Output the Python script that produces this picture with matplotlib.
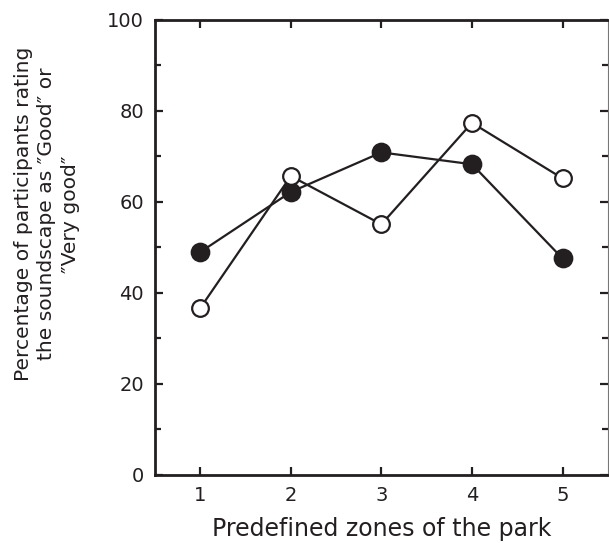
import matplotlib
matplotlib.use('Agg')
import matplotlib.pyplot as plt
from matplotlib.ticker import MultipleLocator

zones = [1, 2, 3, 4, 5]
filled_vals = [48.9, 62.1, 70.8, 68.2, 47.5]
open_vals = [36.6, 65.6, 55.0, 77.3, 65.1]
xticks = [1, 2, 3, 4, 5]
yticks = [0, 20, 40, 60, 80, 100]

ink = '#231f20'
plt.rcParams['font.family'] = 'DejaVu Sans'

fig = plt.figure(figsize=(6.09, 5.43), dpi=100)
ax = fig.add_axes([0.2545, 0.126, 0.7435, 0.838])

ax.plot(zones, filled_vals, color=ink, lw=1.6, marker='o', ms=13,
        mfc=ink, mec=ink, mew=1.2, zorder=3)
ax.plot(zones, open_vals, color=ink, lw=1.6, marker='o', ms=12,
        mfc='white', mec=ink, mew=1.6, zorder=3)

ax.set_xlim(0.5, 5.5)
ax.set_ylim(0, 100)
ax.set_xticks(xticks)
ax.set_yticks(yticks)
ax.yaxis.set_minor_locator(MultipleLocator(10))

for side in ['left', 'bottom', 'top']:
    ax.spines[side].set_linewidth(2.0)
    ax.spines[side].set_color(ink)
ax.spines['right'].set_linewidth(0.8)
ax.spines['right'].set_color('#777777')

ax.tick_params(which='major', direction='in', length=6, width=1.6, color=ink,
               top=True, right=True, labelsize=14, labelcolor=ink, pad=8)
ax.tick_params(which='minor', direction='in', length=4, width=1.6, color=ink,
               left=True, right=True)

ax.set_xlabel('Predefined zones of the park', fontsize=17, color=ink, labelpad=9)
fig.text(47 / 609, 1 - 214 / 543,
         'Percentage of participants rating\nthe soundscape as \u2033Good\u2033 or\n\u2033Very good\u2033',
         rotation=90, ha='center', va='center', multialignment='center',
         fontsize=14.6, color=ink, linespacing=1.3)

fig.savefig('out.png', dpi=100)
